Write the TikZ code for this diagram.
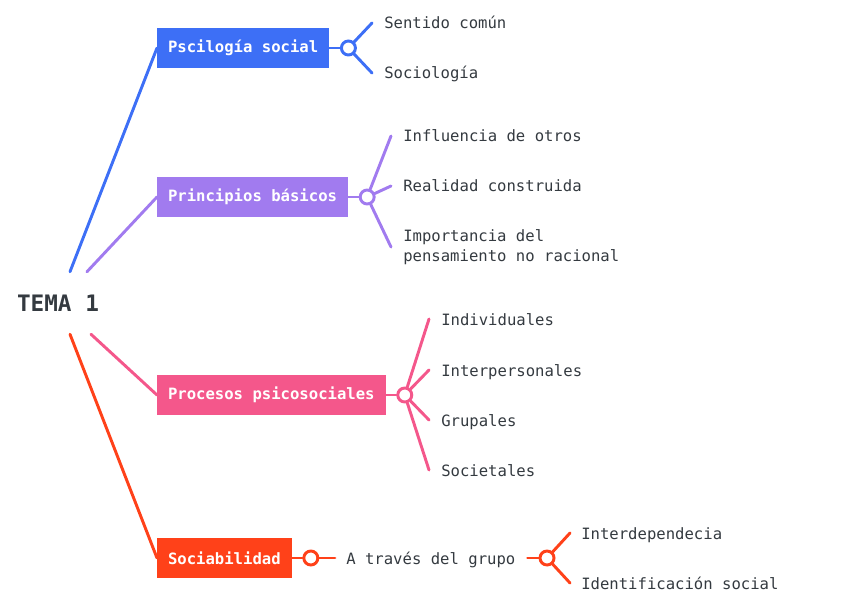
\documentclass[tikz,border=0pt]{standalone}
\usepackage{fontspec}
\setmonofont{DejaVu Sans Mono}
\usetikzlibrary{positioning}
\definecolor{MapBlue}{HTML}{3D6FF6}
\definecolor{MapPurple}{HTML}{A17BEF}
\definecolor{MapPink}{HTML}{F4578B}
\definecolor{MapRed}{HTML}{FF4119}
\definecolor{MapText}{HTML}{343A40}

\begin{document}
\begin{tikzpicture}[
    x=0.75pt, y=-0.75pt,
    node distance=8pt,
    topic/.style={fill=#1, text=white, anchor=west, outer sep=0pt,
      font=\ttfamily\bfseries\fontsize{11.7}{14}\selectfont,
      inner xsep=8.25pt, minimum height=30pt},
    hub/.style={circle, draw=#1, fill=white, line width=2.2pt,
      minimum size=10.5pt, inner sep=0pt},
    leaf/.style={font=\ttfamily\fontsize{11.7}{15}\selectfont, text=MapText,
      anchor=west, inner sep=0pt, text height=10pt, text depth=1pt},
    note/.style={font=\ttfamily\fontsize{11.7}{15}\selectfont, text=MapText,
      anchor=west, inner sep=0pt, align=left},
    link/.style={draw=#1, line width=2.2pt, line cap=round}
  ]
  \useasboundingbox (0,0) rectangle (848,616);

  % root
  \node[font=\ttfamily\bfseries\fontsize{17}{20}\selectfont, text=MapText,
    minimum height=46.5pt, inner sep=0pt] (root) at (58,303) {TEMA 1};

  % main topics
  \node[topic=MapBlue] (psico) at (157,48) {Pscilogía social};
  \node[topic=MapPurple] (principios) at (157,197) {Principios básicos};
  \node[topic=MapPink] (procesos) at (157,395) {Procesos psicosociales};
  \node[topic=MapRed] (sociab) at (157,558) {Sociabilidad};

  \draw[link=MapBlue] ([xshift=9pt]root.north) -- (psico.west);
  \draw[link=MapPurple] ([xshift=21.75pt]root.north) -- (principios.west);
  \draw[link=MapPink] ([xshift=24.75pt]root.south) -- (procesos.west);
  \draw[link=MapRed] ([xshift=9pt]root.south) -- (sociab.west);

  % Pscilogia social
  \node[hub=MapBlue, right=8pt of psico] (psicohub) {};
  \node[leaf] (sentido) at (384,23) {Sentido común};
  \node[leaf] (sociologia) at (384,73) {Sociología};
  \draw[link=MapBlue] (psico) -- (psicohub);
  \draw[link=MapBlue] (psicohub) -- ([xshift=-9pt]sentido.west);
  \draw[link=MapBlue] (psicohub) -- ([xshift=-9pt]sociologia.west);

  % Principios basicos
  \node[hub=MapPurple, right=8pt of principios] (principioshub) {};
  \node[leaf] (influencia) at (403,136) {Influencia de otros};
  \node[leaf] (realidad) at (403,186) {Realidad construida};
  \node[note] (importancia) at (403,247) {Importancia del\\pensamiento no racional};
  \draw[link=MapPurple] (principios) -- (principioshub);
  \foreach \n in {influencia,realidad,importancia}
    \draw[link=MapPurple] (principioshub) -- ([xshift=-9pt]\n.west);

  % Procesos psicosociales
  \node[hub=MapPink, right=8pt of procesos] (procesoshub) {};
  \node[leaf] (individuales) at (441,319) {Individuales};
  \node[leaf] (interpersonales) at (441,370) {Interpersonales};
  \node[leaf] (grupales) at (441,420) {Grupales};
  \node[leaf] (societales) at (441,470) {Societales};
  \draw[link=MapPink] (procesos) -- (procesoshub);
  \foreach \n in {individuales,interpersonales,grupales,societales}
    \draw[link=MapPink] (procesoshub) -- ([xshift=-9pt]\n.west);

  % Sociabilidad
  \node[hub=MapRed, right=8pt of sociab] (sociabhub) {};
  \node[leaf] (grupo) at (346,558) {A través del grupo};
  \node[hub=MapRed] (grupohub) at (547,558) {};
  \node[leaf] (interdep) at (581,533) {Interdependecia};
  \node[leaf] (identif) at (581,583) {Identificación social};
  \draw[link=MapRed] (sociab) -- (sociabhub);
  \draw[link=MapRed] (sociabhub) -- ([xshift=-8.25pt]grupo.west);
  \draw[link=MapRed] ([xshift=9pt]grupo.east) -- (grupohub);
  \draw[link=MapRed] (grupohub) -- ([xshift=-8.25pt]interdep.west);
  \draw[link=MapRed] (grupohub) -- ([xshift=-8.25pt]identif.west);
\end{tikzpicture}
\end{document}
